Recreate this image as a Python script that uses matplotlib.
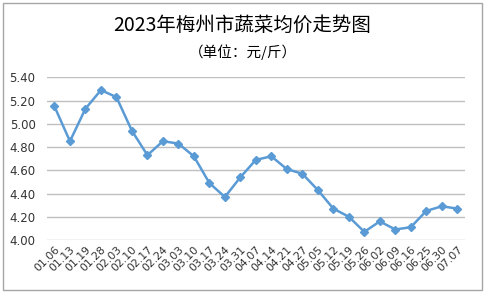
import matplotlib
matplotlib.use("Agg")
import matplotlib.pyplot as plt
from matplotlib.patches import Rectangle

plt.rcParams['font.family'] = ['Noto Sans CJK SC', 'DejaVu Sans']

dates = ["01.06", "01.13", "01.19", "01.28", "02.03", "02.10", "02.17", "02.24",
         "03.03", "03.10", "03.17", "03.24", "03.31", "04.07", "04.14", "04.21",
         "04.27", "05.05", "05.12", "05.19", "05.26", "06.02", "06.09", "06.16",
         "06.25", "06.30", "07.07"]
prices = [5.15, 4.85, 5.13, 5.29, 5.23, 4.94, 4.73, 4.85, 4.83, 4.72, 4.49, 4.37,
          4.54, 4.69, 4.72, 4.61, 4.57, 4.43, 4.27, 4.20, 4.07, 4.16, 4.09, 4.11,
          4.25, 4.29, 4.27]
yticks = [4.00, 4.20, 4.40, 4.60, 4.80, 5.00, 5.20, 5.40]
title = "2023年梅州市蔬菜均价走势图"
subtitle = "（单位：元/斤）"

fig = plt.figure(figsize=(4.85, 2.93), dpi=100)
fig.patches.append(Rectangle((0.006, 0.01), 0.988, 0.98, transform=fig.transFigure,
                             fill=False, edgecolor='#A6A6A6', linewidth=1.0))
ax = fig.add_axes([0.0963, 0.181, 0.8625, 0.555])

x = list(range(len(dates)))
ax.plot(x, prices, color='#5B9BD5', linewidth=1.8, marker='D', markersize=4.2,
        markerfacecolor='#5B9BD5', markeredgecolor='#5B9BD5')
ax.set_xlim(-0.5, len(dates) - 0.5)
ax.set_ylim(4.0, 5.4)
ax.set_yticks(yticks)
ax.set_yticklabels([f"{v:.2f}" for v in yticks], fontsize=8.5, color='#333333',
                   family=['DejaVu Sans'])
ax.set_xticks(x)
ax.set_xticklabels(dates, rotation=45, ha='right', rotation_mode='anchor',
                   fontsize=7.8, color='#333333', family=['DejaVu Sans'])
ax.tick_params(axis='both', length=0, pad=3)
ax.tick_params(axis='y', pad=8)
ax.grid(axis='y', color='#BFBFBF', linewidth=1.0)
ax.set_axisbelow(True)
for s in ax.spines.values():
    s.set_visible(False)

fig.text(0.5, 0.912, title, ha='center', va='center', fontsize=14, color='#000000')
fig.text(0.5, 0.822, subtitle, ha='center', va='center', fontsize=10.5, color='#000000')

fig.savefig("out.png", dpi=100)
